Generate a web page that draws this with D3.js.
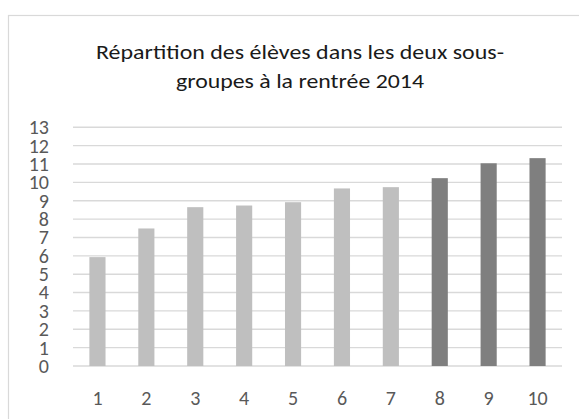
<!DOCTYPE html>
<html>
<head>
<meta charset="utf-8">
<script src="https://cdn.jsdelivr.net/npm/d3@7"></script>
<style>
  body { margin: 0; background: #fff; }
  svg text { font-family: Carlito, Lato, "Noto Sans", sans-serif; }
</style>
</head>
<body>
<svg></svg>
<script>
// Chart data
const categories = ["1", "2", "3", "4", "5", "6", "7", "8", "9", "10"];
const values = [5.93, 7.49, 8.65, 8.74, 8.92, 9.67, 9.74, 10.23, 11.04, 11.32];
const groups = ["A", "A", "A", "A", "A", "A", "A", "B", "B", "B"];
const yTicks = [0, 1, 2, 3, 4, 5, 6, 7, 8, 9, 10, 11, 12, 13];
const titleLines = ["Répartition des élèves dans les deux sous-", "groupes à la rentrée 2014"];
const titleWidths = [408, 248];

const w = 579;
const h = 419;
const plot = { left: 73, right: 562, top: 127.3, bottom: 366 };

const svg = d3.select("svg")
  .attr("width", w)
  .attr("height", h);

// outer chart border (cropped at right and bottom)
svg.append("rect")
  .attr("x", 8.5)
  .attr("y", 15.5)
  .attr("width", 620)
  .attr("height", 500)
  .attr("fill", "#fff")
  .attr("stroke", "#d9d9d9")
  .attr("stroke-width", 1.2);

const title = svg.append("text")
  .attr("text-anchor", "middle")
  .attr("fill", "#1a1a1a")
  .style("font-size", "21px");

title.selectAll("tspan")
  .data(titleLines)
  .enter()
  .append("tspan")
  .attr("x", 300)
  .attr("y", (d, i) => 58.5 + i * 29)
  .attr("textLength", (d, i) => titleWidths[i])
  .attr("lengthAdjust", "spacingAndGlyphs")
  .text((d) => d);

const x = d3.scaleBand()
  .domain(categories)
  .range([plot.left, plot.right])
  .paddingInner(0.67)
  .paddingOuter(0.335);

const y = d3.scaleLinear()
  .domain([0, 13])
  .range([plot.bottom, plot.top]);

const color = d3.scaleOrdinal()
  .domain(["A", "B"])
  .range(["#bfbfbf", "#7f7f7f"]);

// gridlines
svg.append("g")
  .selectAll("line")
  .data(yTicks)
  .enter()
  .append("line")
  .attr("x1", plot.left)
  .attr("x2", plot.right)
  .attr("y1", (d) => y(d))
  .attr("y2", (d) => y(d))
  .attr("stroke", "#d9d9d9")
  .attr("stroke-width", 1.4);

// y axis labels
const yAxis = svg.append("g")
  .attr("transform", `translate(${plot.left - 24},0)`)
  .call(d3.axisLeft(y).tickValues(yTicks).tickSize(0).tickPadding(0));
yAxis.select(".domain").remove();
yAxis.selectAll("text")
  .attr("fill", "#595959")
  .style("font-size", "20px");

// bars
svg.append("g")
  .selectAll("rect")
  .data(values)
  .enter()
  .append("rect")
  .attr("x", (d, i) => x(categories[i]))
  .attr("y", (d) => y(d))
  .attr("width", x.bandwidth())
  .attr("height", (d) => y(0) - y(d))
  .attr("fill", (d, i) => color(groups[i]));

// x axis labels
const xAxis = svg.append("g")
  .attr("transform", `translate(0,${plot.bottom + 25})`)
  .call(d3.axisBottom(x).tickSize(0).tickPadding(0));
xAxis.select(".domain").remove();
xAxis.selectAll("text")
  .attr("fill", "#595959")
  .style("font-size", "20px");
</script>
</body>
</html>
